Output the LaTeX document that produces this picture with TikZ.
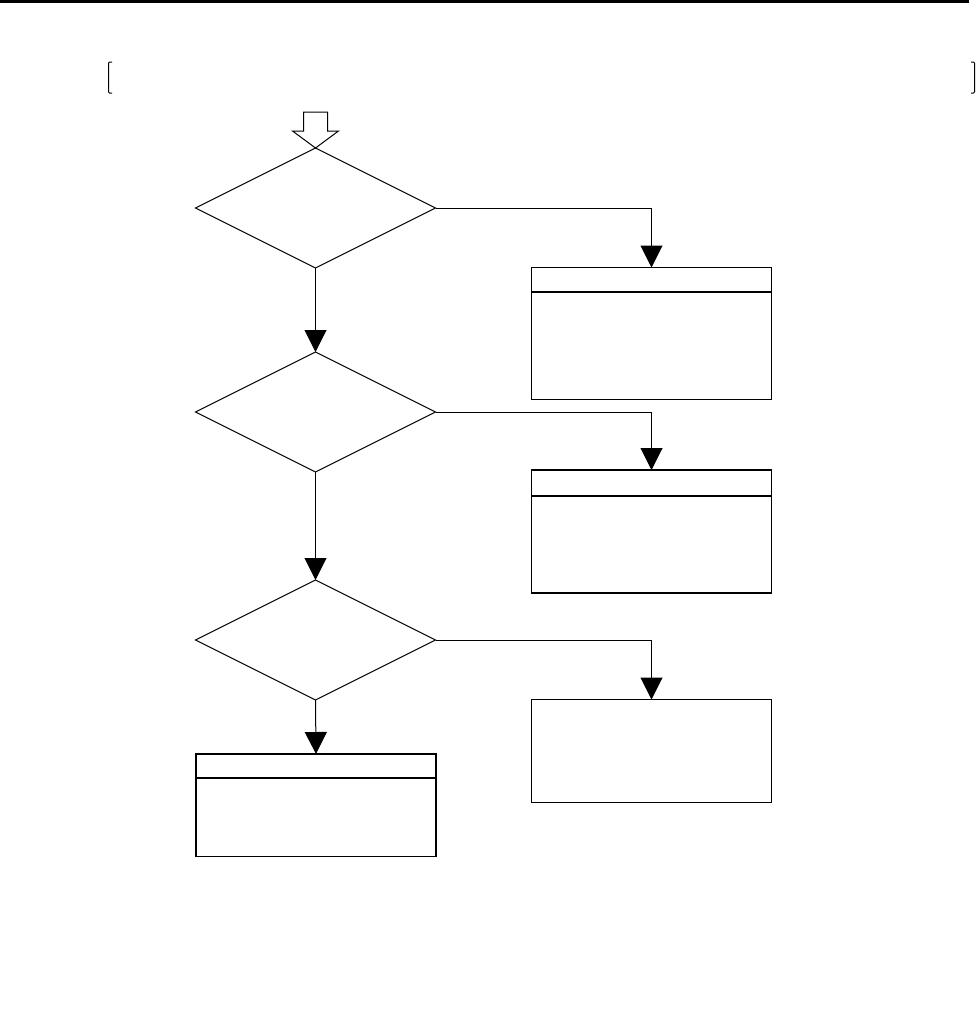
\documentclass[tikz,border=0pt]{standalone}
\usetikzlibrary{shapes.geometric,arrows.meta}
\begin{document}
\begin{tikzpicture}[x=1pt,y=-1pt,
  decision/.style={shape=diamond,draw,line width=1pt,minimum width=240pt,minimum height=120pt,inner sep=0pt,outer sep=0pt},
  procbox/.style={shape=rectangle,draw,line width=1.8pt,minimum width=240pt,inner sep=0pt,outer sep=0pt},
  conn/.style={line width=1pt,-{Triangle[length=22pt,width=22pt]}},
  plain/.style={line width=1pt}]
\useasboundingbox (0,0) rectangle (978,1012);
% top rule
\draw[line width=3pt] (0,1.5) -- (969,1.5);
% brackets
\draw[line width=1pt,rounded corners=1pt] (112,62) -- (108.5,62) -- (108.5,93) -- (112,93);
\draw[line width=1pt,rounded corners=1pt] (971,62) -- (974.5,62) -- (974.5,93) -- (971,93);
% decisions
\node[decision] (d1) at (315.5,208) {};
\node[decision] (d2) at (315.5,412) {};
\node[decision] (d3) at (315.5,640) {};
% boxes
\node[procbox,minimum height=132pt] (b1) at (651.5,333.5) {};
\node[procbox,minimum height=123pt] (b2) at (651.5,531.5) {};
\node[procbox,minimum height=103pt] (b3) at (651.5,751) {};
\node[procbox,minimum height=102.5pt] (b4) at (316,805.25) {};
\draw[line width=1.8pt] ([yshift=-24.5pt]b1.north west) -- ([yshift=-24.5pt]b1.north east);
\draw[line width=1.8pt] ([yshift=-26pt]b2.north west) -- ([yshift=-26pt]b2.north east);
\draw[line width=1.8pt] ([yshift=-24pt]b4.north west) -- ([yshift=-24pt]b4.north east);
% hollow entry arrow
\coordinate (entry) at (d1.north);
\draw[plain,line join=miter] (303.5,112) -- (327.5,112) -- (327.5,131) -- (338.5,131) -- (entry) -- (292.5,131) -- (303.5,131) -- cycle;
% connectors
\draw[conn] (d1.east) -| (b1.north);
\draw[conn] (d1.south) -- (d2.north);
\draw[conn] (d2.east) -| (b2.north);
\draw[conn] (d2.south) -- (d3.north);
\draw[conn] (d3.east) -| (b3.north);
\draw[conn] (d3.south) -- (b4.north);
\end{tikzpicture}
\end{document}
